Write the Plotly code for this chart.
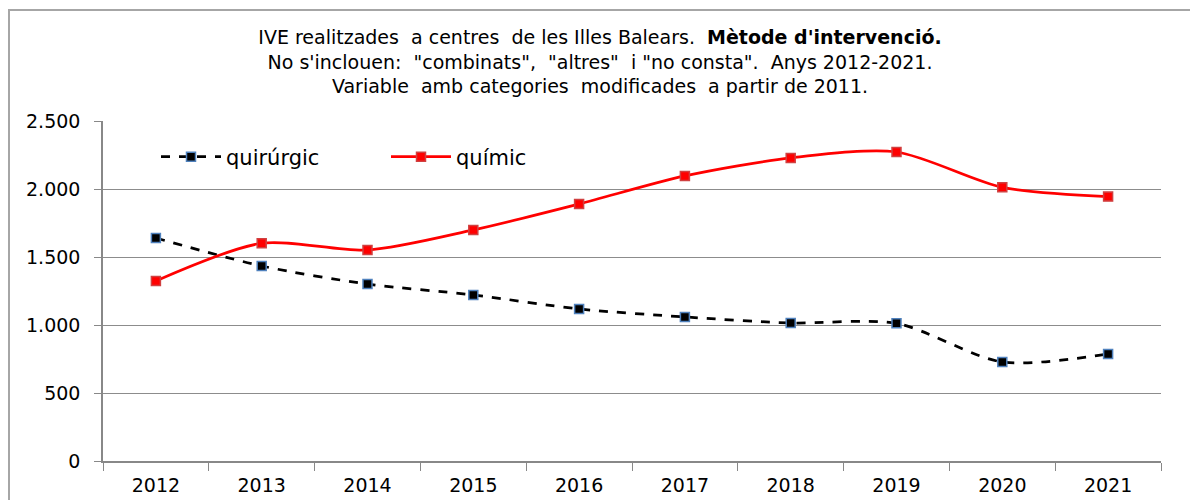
import plotly.graph_objects as go

years = ["2012", "2013", "2014", "2015", "2016", "2017", "2018", "2019", "2020", "2021"]
quirurgic = [1640, 1434, 1301, 1221, 1118, 1059, 1015, 1012, 728, 787]
quimic = [1324, 1601, 1551, 1699, 1890, 2096, 2228, 2272, 2012, 1944]
ytick_vals = [0, 500, 1000, 1500, 2000, 2500]
ytick_text = ["0", "500", "1.000", "1.500", "2.000", "2.500"]

W, H = 1198, 500
ml, mr, mt, mb = 95, 45, 113, 47
pw = W - ml - mr
ph = H - mt - mb

fig = go.Figure()
fig.add_trace(go.Scatter(
    x=years, y=quirurgic, name="quirúrgic", mode="lines+markers",
    line=dict(color="black", width=2.75, dash="dash", shape="spline", smoothing=0.8),
    marker=dict(symbol="square", size=9, color="black", line=dict(color="#4f81bd", width=1.5)),
))
fig.add_trace(go.Scatter(
    x=years, y=quimic, name="químic", mode="lines+markers",
    line=dict(color="#ff0000", width=2.75, shape="spline", smoothing=0.8),
    marker=dict(symbol="square", size=9, color="#ff0000", line=dict(color="#d04040", width=1.5)),
))

fig.add_shape(type="rect", xref="paper", yref="paper",
              x0=(1 - ml) / pw, x1=(W + 20 - ml) / pw,
              y0=(H - mb - (H + 20)) / ph, y1=(H - mb - 2) / ph,
              line=dict(color="#a6a6a6", width=2), layer="below")

FONT = "DejaVu Sans, Verdana, sans-serif"
fig.update_layout(
    width=W, height=H,
    margin=dict(l=ml, r=mr, t=mt, b=mb),
    paper_bgcolor="white", plot_bgcolor="white",
    font=dict(family=FONT, color="black", size=18),
    title=dict(
        text="IVE realitzades  a centres  de les Illes Balears.  <b>Mètode d'intervenció.</b><br>"
             "No s'inclouen:  \"combinats\",  \"altres\"  i \"no consta\".  Anys 2012-2021.<br>"
             "Variable  amb categories  modificades  a partir de 2011.",
        x=(600 - 8) / W, xanchor="center", yref="container", y=1 - 36 / H, yanchor="top",
        font=dict(size=19, color="black", family=FONT),
    ),
    showlegend=True,
    legend=dict(orientation="h", x=(156 - 8 - ml) / pw, y=1 - 36 / ph, xanchor="left", yanchor="middle",
                font=dict(size=21), bgcolor="rgba(0,0,0,0)", itemwidth=60,
                entrywidth=155),
    xaxis=dict(type="category", showgrid=False, showline=True, linecolor="#888888", linewidth=1.5,
               ticks="outside", tickson="boundaries", ticklen=8, tickcolor="#888888",
               tickfont=dict(size=19), range=[-0.5, 9.5], ticklabelstandoff=6),
    yaxis=dict(range=[0, 2500], tickvals=ytick_vals, ticktext=ytick_text,
               showgrid=True, gridcolor="#8c8c8c", gridwidth=1,
               showline=True, linecolor="#888888", linewidth=1.5,
               ticks="outside", ticklen=7, tickcolor="#888888",
               tickfont=dict(size=19), zeroline=False, ticklabelstandoff=10),
)

fig.write_html("out.html")
